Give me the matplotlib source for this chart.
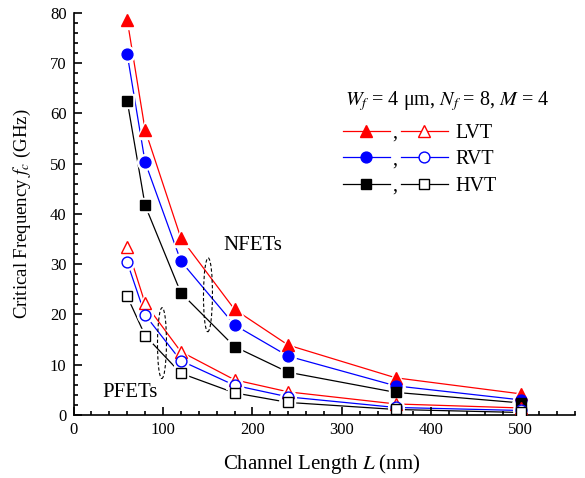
import matplotlib
matplotlib.use("Agg")
import matplotlib.pyplot as plt
from matplotlib.patches import Ellipse
from matplotlib.lines import Line2D
from matplotlib.ticker import MultipleLocator

plt.rcParams['font.family'] = ['Liberation Serif', 'DejaVu Serif']
plt.rcParams['mathtext.fontset'] = 'stix'

# Data
channel_length = [60, 80, 120, 180, 240, 360, 500]
nfet_lvt = [78.6, 56.7, 35.2, 21.0, 13.9, 7.4, 4.2]
nfet_rvt = [71.8, 50.3, 30.6, 17.9, 11.7, 5.8, 3.0]
nfet_hvt = [62.5, 41.7, 24.3, 13.6, 8.5, 4.5, 2.4]
pfet_lvt = [33.4, 22.2, 12.6, 7.0, 4.6, 2.2, 1.4]
pfet_rvt = [30.4, 19.9, 10.8, 5.9, 3.6, 1.5, 0.9]
pfet_hvt = [23.6, 15.8, 8.3, 4.4, 2.5, 1.1, 0.5]
labels = ["LVT", "RVT", "HVT"]
colors = ["#ff0000", "#0000ff", "#000000"]
markers = ["^", "o", "s"]
msizes = [9, 7.8, 6.6]

fig = plt.figure(figsize=(5.85, 4.78), dpi=100)
ax = fig.add_axes([73.5 / 585, 1 - 415 / 478, 501 / 585, 402.3 / 478])

nfets = [nfet_lvt, nfet_rvt, nfet_hvt]
pfets = [pfet_lvt, pfet_rvt, pfet_hvt]
for ys, c, m, ms in zip(nfets, colors, markers, msizes):
    ax.plot(channel_length, ys, color=c, lw=0.9, zorder=1)
    ax.plot(channel_length, ys, ls='none', marker=m, ms=ms + 3.5, mfc='white', mec='white', zorder=2)
    ax.plot(channel_length, ys, ls='none', marker=m, ms=ms, mfc=c, mec=c, zorder=3)
for ys, c, m, ms in zip(pfets, colors, markers, msizes):
    ax.plot(channel_length, ys, color=c, lw=0.9, zorder=1)
    ax.plot(channel_length, ys, ls='none', marker=m, ms=ms + 3.5, mfc='white', mec='white', zorder=2)
    ax.plot(channel_length, ys, ls='none', marker=m, ms=ms, mfc='white', mec=c, mew=1.0, zorder=3)

ax.set_xlim(0, 560)
ax.set_ylim(0, 80)
ax.xaxis.set_major_locator(MultipleLocator(100))
ax.xaxis.set_minor_locator(MultipleLocator(20))
ax.yaxis.set_major_locator(MultipleLocator(10))
ax.yaxis.set_minor_locator(MultipleLocator(2))
ax.set_xticks([0, 100, 200, 300, 400, 500])
ax.tick_params(which='both', direction='in', width=1.2, labelsize=12, pad=5)
ax.tick_params(which='major', length=6)
ax.tick_params(which='minor', length=3)
for s in ['top', 'right']:
    ax.spines[s].set_visible(False)
for s in ['left', 'bottom']:
    ax.spines[s].set_linewidth(1.2)

ax.set_xlabel("Channel Length $L$ (nm)", fontsize=15)
ax.set_ylabel("Critical Frequency $f_c$ (GHz)", fontsize=13.5)
ax.xaxis.set_label_coords(0.496, -0.093)
ax.yaxis.set_label_coords(-0.081, 0.5)

ax.text(168, 33.8, "NFETs", fontsize=15, va='center', ha='left')
ax.text(31.8, 4.4, "PFETs", fontsize=15, va='center', ha='left')
ax.add_patch(Ellipse((150.3, 23.9), 10, 14.7, angle=-3, fill=False, ls=(0, (3, 2)), lw=0.8, ec='black'))
ax.add_patch(Ellipse((98.9, 14.3), 10, 14.1, angle=-3, fill=False, ls=(0, (3, 2)), lw=0.8, ec='black'))

fig.text(345 / 585, 1 - 101 / 478, r"$W_f$ = 4 μm, $N_f$ = 8, $M$ = 4", fontsize=14.5, va='center', ha='left')

filled = [Line2D([], [], color=c, marker=m, ms=ms, mfc=c, mec=c, lw=0.9) for c, m, ms in zip(colors, markers, msizes)]
opened = [Line2D([], [], color=c, marker=m, ms=ms, mfc='white', mec=c, lw=0.9) for c, m, ms in zip(colors, markers, msizes)]
leg1 = ax.legend(filled, [","] * 3, loc='upper left', bbox_to_anchor=(343 / 585, 1 - 123.5 / 478),
                 bbox_transform=fig.transFigure, frameon=False, fontsize=14.5, handlelength=2.33,
                 handletextpad=0.12, labelspacing=0.37, borderpad=0, borderaxespad=0, numpoints=1)
ax.add_artist(leg1)
leg2 = ax.legend(opened, labels, loc='upper left', bbox_to_anchor=(401 / 585, 1 - 123.5 / 478),
                 bbox_transform=fig.transFigure, frameon=False, fontsize=14.5, handlelength=2.33,
                 handletextpad=0.35, labelspacing=0.37, borderpad=0, borderaxespad=0, numpoints=1)

fig.savefig("out.png", dpi=100)
